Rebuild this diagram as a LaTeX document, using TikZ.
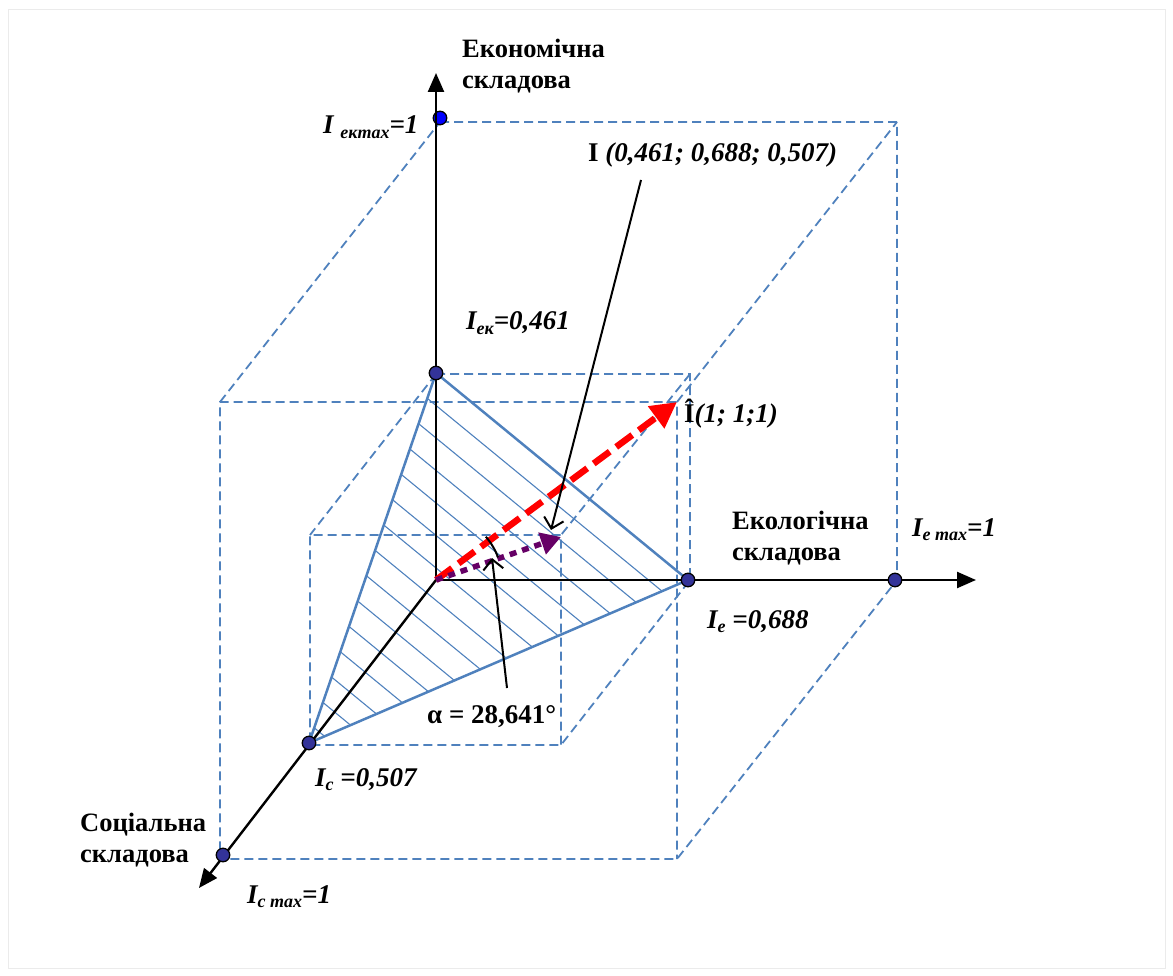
\documentclass[tikz,border=0pt]{standalone}
\usepackage{fontspec}
\setmainfont{Liberation Serif}
\usetikzlibrary{arrows.meta,calc}
\definecolor{dblue}{RGB}{79,129,189}
\definecolor{navy}{RGB}{51,51,153}
\definecolor{pure}{RGB}{0,0,255}
\definecolor{purp}{RGB}{102,0,102}
\newcommand\sbs[1]{\raisebox{-0.35ex}{\fontsize{18}{18}\selectfont #1}}
\tikzset{
  axis/.style={line width=2.4pt,-{Triangle[length=19pt,width=16pt]}},
  boxline/.style={dblue,line width=1.8pt,dash pattern=on 9pt off 5pt},
  triedge/.style={dblue,line width=2.5pt},
  hatch/.style={dblue,line width=1.1pt},
  dot/.style={circle,fill=navy,draw=black,line width=1.3pt,inner sep=0pt,minimum size=13.5pt},
  lab/.style={inner sep=0pt,font=\bfseries\itshape\fontsize{27}{30}\selectfont},
  uplab/.style={inner sep=0pt,font=\bfseries\fontsize{27}{30}\selectfont},
  axname/.style={inner sep=0pt,font=\bfseries\fontsize{26.5}{30}\selectfont},
  pointer/.style={line width=2pt,-{Straight Barb[length=10pt,width=20pt,line width=2pt]}},
}
\begin{document}
\begin{tikzpicture}[x=1pt,y=-1pt]
\useasboundingbox (0,0) rectangle (1173,976);
\draw[black!8,line width=1pt] (8,10) rectangle (1165,968);
% key points
\coordinate (O) at (436,580);
\coordinate (Yek) at (436,373);
\coordinate (Ymax) at (440,118);
\coordinate (Xe) at (688,580);
\coordinate (Xmax) at (895,580);
\coordinate (Zc) at (309,743);
\coordinate (Zmax) at (223,855);
\coordinate (Ytip) at (436,73);
\coordinate (Xtip) at (976,580);
\coordinate (Ztip) at (199,888);
% big box
\coordinate (B1) at (440,122);
\coordinate (B2) at (897,122);
\coordinate (B3) at (897,580);
\coordinate (F1) at (220,402);
\coordinate (F2) at (677,402);
\coordinate (F3) at (677,859);
\coordinate (F4) at (220,859);
\draw[boxline] (B1) -- (B2) -- (B3) -- (F3) -- (F4) -- (F1) -- (F2) -- (F3);
\draw[boxline] (F1) -- (B1);
\draw[boxline] (F2) -- (B2);
% small box
\coordinate (S1) at (436,374);
\coordinate (S2) at (690,374);
\coordinate (S3) at (690,580);
\coordinate (T1) at (310,535);
\coordinate (T2) at (561,535);
\coordinate (T3) at (561,745);
\coordinate (T4) at (310,745);
\draw[boxline] (S1) -- (S2) -- (S3) -- (T3) -- (T4) -- (T1) -- (T2) -- (T3);
\draw[boxline] (S1) -- (T1);
\draw[boxline] (S2) -- (T2);
% hatched triangle
\begin{scope}
\clip (Yek) -- (Xe) -- (Zc) -- cycle;
\foreach \k in {1,...,15}{
  \draw[hatch] ($(Yek)!\k/14.6!(Zc)$) ++(-504,-414) -- ++(1008,828);
}
\end{scope}
\draw[triedge,line join=round] (Yek) -- (Xe) -- (Zc) -- cycle;
% top dot under axis
\node[dot,fill=pure] (dYmax) at (Ymax) {};
% axes
\draw[axis] (O) -- (Ytip);
\draw[axis] (O) -- (Xtip);
\draw[axis] (O) -- (Ztip);
% vectors
\coordinate (Ihat) at (677,402);
\coordinate (Ipt) at (561,537);
\draw[red,line width=6.5pt,dash pattern=on 20pt off 8pt,-{Triangle[length=26pt,width=26pt]}] (O) -- (Ihat);
\draw[purp,line width=5.5pt,dash pattern=on 7pt off 6pt,-{Triangle[length=20pt,width=22pt]}] (O) -- (Ipt);
% angle arc
\draw[black,line width=2pt] (O) ++(-20:66) arc[start angle=-20,end angle=-41,radius=66];
% dots
\node[dot] (dYek) at (Yek) {};
\node[dot] (dXe) at (Xe) {};
\node[dot] (dXmax) at (Xmax) {};
\node[dot] (dZc) at (Zc) {};
\node[dot] (dZmax) at (Zmax) {};
% labels
\node[axname,anchor=base west] (econ1) at (462,58) {Економічна};
\node[axname,anchor=base west] (econ2) at (462,89) {складова};
\node[axname,anchor=base west] (ecol1) at (732,529) {Екологічна};
\node[axname,anchor=base west] (ecol2) at (732,560) {складова};
\node[axname,anchor=base west] (soc1) at (80,831) {Соціальна};
\node[axname,anchor=base west] (soc2) at (80,862) {складова};
\node[lab,anchor=base west] (lYmax) at (323,134) {I \sbs{екmax}=1};
\node[lab,anchor=base west] (lYek) at (466,330) {I\sbs{ек}=0,461};
\node[lab,anchor=base west] (lI) at (588,162) {\upshape I \itshape(0,461; 0,688; 0,507)};
\node[lab,anchor=base west] (lIhat) at (684,422) {\upshape Î\itshape(1; 1;1)};
\node[lab,anchor=base west] (lXmax) at (912,536) {I\sbs{e max}=1};
\node[lab,anchor=base west] (lXe) at (707,628) {I\sbs{e} =0,688};
\node[lab,anchor=base west] (lZc) at (315,786) {I\sbs{c} =0,507};
\node[lab,anchor=base west] (lZmax) at (247,903) {I\sbs{c max}=1};
\node[uplab,anchor=base west] (lalpha) at (427,723) {α = 28,641°};
% pointer arrows
\coordinate (ptail) at (641,180);
\coordinate (ptip) at (551,530);
\draw[pointer] (ptail) -- (ptip);
\coordinate (atail) at (507,688);
\coordinate (atip) at (492,558);
\draw[pointer] (atail) -- (atip);
\end{tikzpicture}
\end{document}
